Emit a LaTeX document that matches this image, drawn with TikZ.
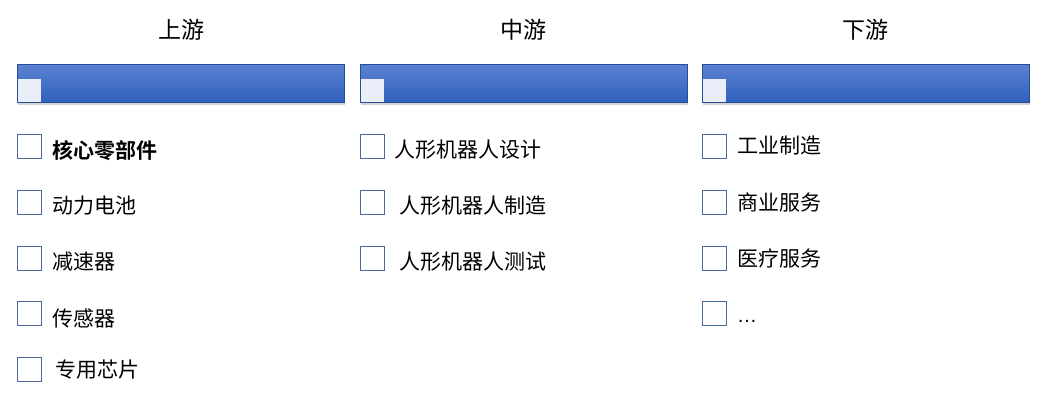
\documentclass[tikz,border=0pt]{standalone}
\usepackage{fontspec}
\usepackage{tikz}
\usetikzlibrary{shadows}
\newfontfamily\cjk{Noto Sans CJK SC}
\newfontfamily\cjkbold{Noto Sans CJK SC Bold}

\definecolor{barTop}{HTML}{5B82D2}
\definecolor{barBot}{HTML}{2F60BD}
\definecolor{barTab}{HTML}{E9EEF8}
\definecolor{boxLine}{HTML}{4A6A9E}

\tikzset{
  head/.style={font=\cjk\fontsize{23}{26}\selectfont, anchor=center},
  bar/.style={anchor=north west, minimum width=327pt, minimum height=38pt, inner sep=0pt,
    top color=barTop, bottom color=barBot, draw=barBot!80!black, line width=0.3pt,
    drop shadow={shadow xshift=0.6pt, shadow yshift=-2.5pt, opacity=0.35}},
  tab/.style={anchor=south west, fill=barTab, minimum size=23pt, inner sep=0pt},
  chk/.style={anchor=north west, draw=boxLine, fill=white, line width=0.8pt, minimum size=24pt, inner sep=0pt},
  item/.style={anchor=west, inner sep=0pt, font=\cjk\fontsize{21}{24}\selectfont}
}

\begin{document}
\begin{tikzpicture}[x=1pt, y=-1pt]
\useasboundingbox (0,0) rectangle (1048,410);

% Headers
\node[head] (hUp)  at (181,30) {上游};
\node[head] (hMid) at (523,30) {中游};
\node[head] (hDn)  at (865,30) {下游};

% Blue bars with tabs
\node[bar] (barUp)  at (17,64)  {};
\node[bar] (barMid) at (360,64) {};
\node[bar] (barDn)  at (702,64) {};
\node[tab] (tabUp)  at ([xshift=1pt]barUp.south west)  {};
\node[tab] (tabMid) at ([xshift=1pt]barMid.south west) {};
\node[tab] (tabDn)  at ([xshift=1pt]barDn.south west)  {};

% Upstream
\node[chk] (u1) at (17,134) {};
\node[chk] (u2) at (17,190) {};
\node[chk] (u3) at (17,246) {};
\node[chk] (u4) at (17,301) {};
\node[chk] (u5) at (17,357) {};
\node[item, font=\cjkbold\fontsize{21}{24}\selectfont] (tu1) at (52,151) {核心零部件};
\node[item] (tu2) at (52,206) {动力电池};
\node[item] (tu3) at (52,262) {减速器};
\node[item] (tu4) at (52,318) {传感器};
\node[item] (tu5) at (55,370) {专用芯片};

% Midstream
\node[chk] (m1) at (360,134) {};
\node[chk] (m2) at (360,190) {};
\node[chk] (m3) at (360,246) {};
\node[item] (tm1) at (394,150) {人形机器人设计};
\node[item] (tm2) at (399,206) {人形机器人制造};
\node[item] (tm3) at (399,262) {人形机器人测试};

% Downstream
\node[chk] (d1) at (702,134) {};
\node[chk] (d2) at (702,190) {};
\node[chk] (d3) at (702,246) {};
\node[chk] (d4) at (702,301) {};
\node[item] (td1) at (737,146) {工业制造};
\node[item] (td2) at (737,202) {商业服务};
\node[item] (td3) at (737,258) {医疗服务};
\node[item, font=\fontspec{Liberation Sans}\fontsize{20}{24}\selectfont] (td4) at (737,321) {…};
\end{tikzpicture}
\end{document}
